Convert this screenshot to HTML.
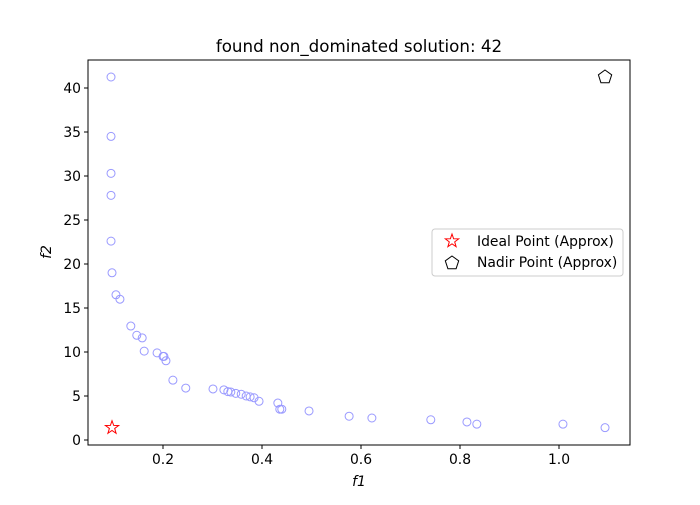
<!DOCTYPE html>
<html><head><meta charset="utf-8"><style>
body{margin:0;background:#fff;}
svg text{font-family:"DejaVu Sans","Liberation Sans",sans-serif;}
</style></head><body>
<svg width="700" height="500" xmlns="http://www.w3.org/2000/svg">
<rect width="700" height="500" fill="#fff"/>
<g id="plot"></g>
</svg>
<script>
const xs=[0.095,0.095,0.095,0.095,0.095,0.097,0.105,0.113,0.135,0.147,0.158,0.162,0.188,0.200,0.202,0.206,0.220,0.246,0.301,0.323,0.331,0.337,0.347,0.358,0.368,0.376,0.384,0.394,0.432,0.436,0.440,0.495,0.576,0.622,0.741,0.814,0.834,1.008,1.093];
const ys=[41.25,34.5,30.3,27.8,22.6,19.0,16.5,16.0,12.95,11.9,11.6,10.1,9.9,9.5,9.5,9.0,6.8,5.9,5.8,5.7,5.5,5.45,5.3,5.2,5.0,4.9,4.8,4.4,4.2,3.5,3.5,3.3,2.7,2.5,2.3,2.05,1.8,1.8,1.4];
const idealPt=[0.097,1.4];
const nadirPt=[1.093,41.25];
const xTicks=[0.2,0.4,0.6,0.8,1.0];
const yTicks=[0,5,10,15,20,25,30,35,40];
const L=88,R=630,T=60,B=445;
const X=v=>163+(v-0.2)*495;
const Y=v=>440-v*8.8;
const NS='http://www.w3.org/2000/svg';
const g=document.getElementById('plot');
function mk(t,a){const e=document.createElementNS(NS,t);for(const k in a)e.setAttribute(k,a[k]);g.appendChild(e);return e;}
let e;
xs.forEach((x,i)=>{e=mk('circle',{cx:X(x),cy:Y(ys[i]),r:4,fill:'none',stroke:'#9999ff','stroke-width':1});

});
function star(cx,cy,r){let p=[];for(let i=0;i<10;i++){const rr=i%2?r*0.4:r;const a=-Math.PI/2+i*Math.PI/5;p.push((cx+rr*Math.cos(a)).toFixed(1)+','+(cy+rr*Math.sin(a)).toFixed(1));}return p.join(' ');}
function pent(cx,cy,r){let p=[];for(let i=0;i<5;i++){const a=-Math.PI/2+i*2*Math.PI/5;p.push((cx+r*Math.cos(a)).toFixed(1)+','+(cy+r*Math.sin(a)).toFixed(1));}return p.join(' ');}
e=mk('polygon',{points:star(X(idealPt[0]),Y(idealPt[1]),7),fill:'none',stroke:'red','stroke-width':1});


e=mk('polygon',{points:pent(X(nadirPt[0]),Y(nadirPt[1]),7),fill:'none',stroke:'#000','stroke-width':1});


e=mk('rect',{x:L,y:T,width:R-L,height:B-T,fill:'none',stroke:'#000','stroke-width':1});


xTicks.forEach(t=>{mk('line',{x1:X(t),x2:X(t),y1:B,y2:B+4,stroke:'#000'});
e=mk('text',{x:X(t),y:B+19,'font-size':13.9,'text-anchor':'middle'});e.textContent=t.toFixed(1);

});
yTicks.forEach(t=>{mk('line',{x1:L-4,x2:L,y1:Y(t),y2:Y(t),stroke:'#000'});
e=mk('text',{x:L-7,y:Y(t)+5,'font-size':13.9,'text-anchor':'end'});e.textContent=t;

});
e=mk('text',{x:359,y:52,'font-size':16.7,'text-anchor':'middle'});e.textContent='found non_dominated solution: 42';


e=mk('text',{x:359,y:486,'font-size':13.9,'text-anchor':'middle','font-style':'italic'});e.textContent='f1';


e=mk('text',{x:51,y:252,'font-size':13.9,'text-anchor':'middle','font-style':'italic',transform:'rotate(-90 51 252)'});e.textContent='f2';


e=mk('rect',{x:432,y:229,width:191,height:47,rx:3,fill:'#fff','fill-opacity':0.8,stroke:'#ccc'});


mk('polygon',{points:star(452,241,7),fill:'none',stroke:'red'});
e=mk('text',{x:477,y:246,'font-size':13.9});e.textContent='Ideal Point (Approx)';


mk('polygon',{points:pent(452,263,7),fill:'none',stroke:'#000'});
e=mk('text',{x:477,y:267,'font-size':13.9});e.textContent='Nadir Point (Approx)';


</script>
</body></html>
